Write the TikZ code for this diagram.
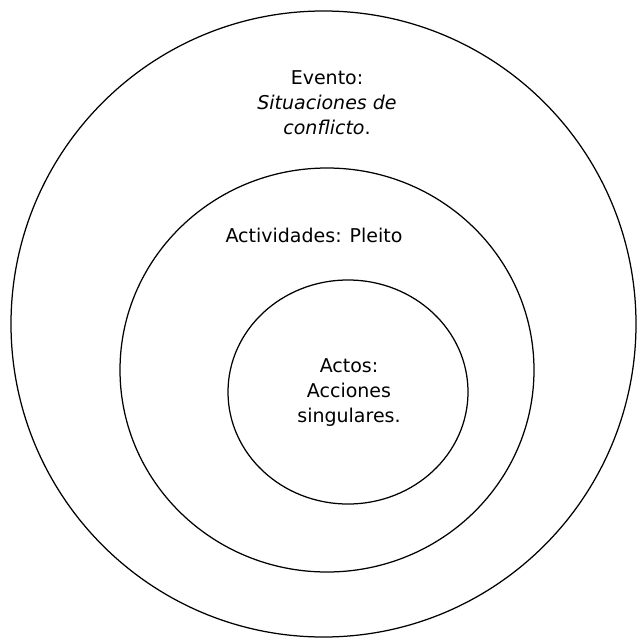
\documentclass[tikz,border=0pt]{standalone}
\usepackage{fontspec}
\setmainfont{DejaVu Sans}
\begin{document}
\begin{tikzpicture}[x=1pt,y=-1pt,
  ring/.style={draw=black,line width=1.25pt},
  lbl/.style={align=center,inner sep=0pt,font=\fontsize{19}{25}\selectfont}]
\useasboundingbox (0,0) rectangle (637,642);
\draw[ring] (323.5,324) ellipse [x radius=312.5,y radius=313];
\draw[ring] (327,370) ellipse [x radius=207,y radius=202];
\draw[ring] (348,392) ellipse [x radius=120,y radius=112];
\node[lbl] (evento) at (327,103) {Evento:\\\textit{Situaciones de}\\\textit{conflicto}.};
\node[lbl] (act) at (314,235) {Actividades: Pleito};
\node[lbl] (actos) at (349,393) {Actos:\\Acciones\\singulares.};
\end{tikzpicture}
\end{document}
